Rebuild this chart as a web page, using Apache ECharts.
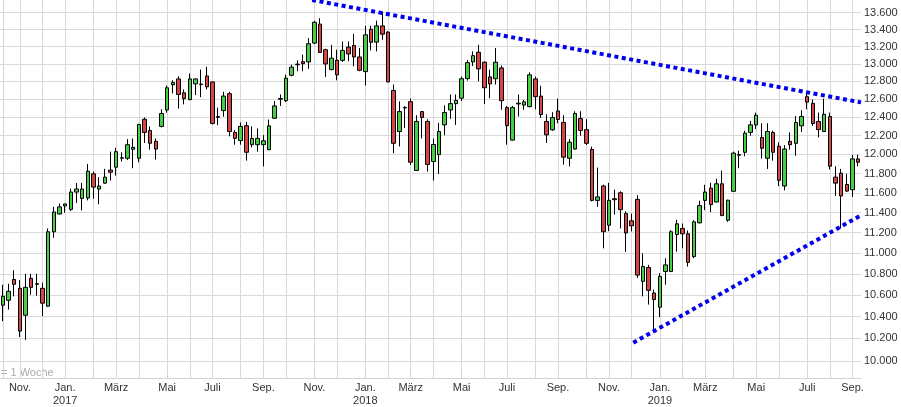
<!DOCTYPE html>
<html><head><meta charset="utf-8">
<script src="https://cdn.jsdelivr.net/npm/echarts@6/dist/echarts.min.js"></script>
<style>html,body{margin:0;padding:0;background:#fff}#c{width:901px;height:407px}</style>
</head><body><div id="c"></div>
<script>
const weeks = ['2016-10-10','2016-10-17','2016-10-24','2016-10-31','2016-11-07','2016-11-14','2016-11-21','2016-11-28','2016-12-05','2016-12-12','2016-12-19','2016-12-26',
'2017-01-02','2017-01-09','2017-01-16','2017-01-23','2017-01-30','2017-02-06','2017-02-13','2017-02-20','2017-02-27','2017-03-06','2017-03-13','2017-03-20','2017-03-27','2017-04-03','2017-04-10','2017-04-17','2017-04-24','2017-05-01','2017-05-08','2017-05-15','2017-05-22','2017-05-29','2017-06-05','2017-06-12','2017-06-19','2017-06-26','2017-07-03','2017-07-10','2017-07-17','2017-07-24','2017-07-31','2017-08-07','2017-08-14','2017-08-21','2017-08-28','2017-09-04','2017-09-11','2017-09-18','2017-09-25','2017-10-02','2017-10-09','2017-10-16','2017-10-23','2017-10-30','2017-11-06','2017-11-13','2017-11-20','2017-11-27','2017-12-04','2017-12-11','2017-12-18','2017-12-25',
'2018-01-01','2018-01-08','2018-01-15','2018-01-22','2018-01-29','2018-02-05','2018-02-12','2018-02-19','2018-02-26','2018-03-05','2018-03-12','2018-03-19','2018-03-26','2018-04-02','2018-04-09','2018-04-16','2018-04-23','2018-04-30','2018-05-07','2018-05-14','2018-05-21','2018-05-28','2018-06-04','2018-06-11','2018-06-18','2018-06-25','2018-07-02','2018-07-09','2018-07-16','2018-07-23','2018-07-30','2018-08-06','2018-08-13','2018-08-20','2018-08-27','2018-09-03','2018-09-10','2018-09-17','2018-09-24','2018-10-01','2018-10-08','2018-10-15','2018-10-22','2018-10-29','2018-11-05','2018-11-12','2018-11-19','2018-11-26','2018-12-03','2018-12-10','2018-12-17','2018-12-24','2018-12-31',
'2019-01-07','2019-01-14','2019-01-21','2019-01-28','2019-02-04','2019-02-11','2019-02-18','2019-02-25','2019-03-04','2019-03-11','2019-03-18','2019-03-25','2019-04-01','2019-04-08','2019-04-15','2019-04-22','2019-04-29','2019-05-06','2019-05-13','2019-05-20','2019-05-27','2019-06-03','2019-06-10','2019-06-17','2019-06-24','2019-07-01','2019-07-08','2019-07-15','2019-07-22','2019-07-29','2019-08-05','2019-08-12','2019-08-19','2019-08-26','2019-09-02'];

const open = [10504,10550,10746,10662,10412,10756,10700,10662,10495,11208,11386,11467,
11432,11608,11543,11547,11796,11639,11700,11835,11866,11960,11960,12055,11960,12379,12257,12140,12301,12481,12761,12828,12672,12595,12772,12765,12862,12794,12400,12474,12662,12236,12148,12309,12104,12104,12104,12051,12390,12600,12584,12869,12990,13025,13022,13241,13464,13163,12934,13042,13040,13194,13213,13079,
12911,13404,13252,13443,13370,12698,12246,12503,12573,11832,12463,12355,11925,11998,12318,12481,12551,12612,12832,13022,13134,13019,12851,12830,12953,12507,12153,12548,12535,12518,12828,12635,12355,12264,12470,12344,11960,12058,12387,12266,12053,11523,11670,11273,11530,11601,11389,11317,11533,10728,10860,10618,10486,
10822,10822,11181,11241,11188,10965,11297,11523,11649,11507,11693,11323,11616,11992,12023,12236,12317,12182,11960,12236,12087,11670,12140,12119,12307,12628,12554,12355,12246,12409,11762,11803,11686,11632,11953];
const close = [10587,10634,10700,10267,10671,10671,10706,10523,11208,11406,11457,11487,
11608,11639,11639,11824,11659,11670,11762,11814,12030,11966,12104,12076,12322,12236,12119,12058,12442,12728,12787,12653,12606,12828,12828,12771,12739,12333,12408,12635,12246,12171,12301,12023,12171,12171,12146,12307,12525,12608,12837,12962,12996,13002,13233,13486,13132,12999,13065,12874,13155,13114,13079,12926,
13337,13250,13443,13345,12794,12119,12463,12510,11918,12355,12398,11895,12106,12246,12452,12551,12587,12830,13014,13094,12942,12728,12772,13019,12584,12309,12507,12556,12571,12874,12628,12431,12210,12398,12376,11971,12130,12442,12257,12119,11523,11558,11208,11523,11540,11429,11196,11267,10787,10869,10643,10556,10775,
10885,11208,11287,11188,10909,11307,11470,11608,11480,11693,11369,11525,12014,11998,12228,12318,12423,12066,12246,12023,11729,12058,12104,12344,12409,12568,12333,12266,12434,11876,11700,11568,11618,11953,11918];
const low = [10357,10464,10587,10213,10188,10602,10593,10403,10490,11149,11379,11399,
11416,11497,11422,11523,11540,11483,11693,11727,11778,11925,11942,11855,11918,12122,12051,11946,12290,12452,12664,12496,12543,12590,12646,12623,12709,12322,12314,12407,12193,12104,12104,11935,12076,12030,11874,12045,12385,12525,12568,12858,12915,12915,12942,13227,13125,12851,12926,12812,13022,13029,12972,12915,
12753,13155,13144,13279,12790,12013,12085,12285,11890,11830,12171,11820,11727,11796,12206,12383,12317,12579,12809,12976,12801,12546,12612,12764,12483,12104,12148,12409,12483,12510,12489,12394,12122,12253,12334,11893,11874,12051,12201,12101,11513,11457,11045,11214,11379,11241,11011,11211,10759,10587,10510,10281,10394,
10696,10815,11013,11045,10869,10949,11290,11424,11404,11500,11366,11307,11614,11855,11981,12200,12272,11955,11848,11935,11670,11625,12051,11987,12240,12489,12307,12182,12240,11841,11568,11241,11610,11558,11876];
const high = [10696,10705,10834,10740,10799,10799,10799,10716,11241,11457,11490,11490,
11642,11701,11701,11900,11820,11762,11848,12030,12069,12023,12164,12171,12330,12398,12301,12171,12489,12753,12812,12858,12709,12889,12832,12934,12965,12797,12507,12683,12683,12261,12344,12350,12301,12279,12207,12376,12579,12653,12877,12991,13040,13106,13299,13505,13534,13175,13221,13163,13259,13259,13349,13183,
13443,13443,13505,13612,13380,12764,12576,12521,12609,12423,12470,12379,12167,12339,12532,12653,12653,12854,13045,13144,13221,13028,12934,13183,12980,12525,12525,12653,12592,12903,12854,12750,12434,12456,12607,12423,12164,12467,12467,12379,12083,11862,11683,11704,11632,11616,11412,11389,11576,10996,10885,10649,10806,
10949,11224,11327,11290,11221,11322,11520,11683,11704,11745,11830,11530,12030,12040,12253,12361,12452,12336,12336,12255,12130,12100,12236,12415,12478,12672,12598,12452,12606,12452,11876,11848,11796,11995,11998];

const yTicks = [10000,10200,10400,10600,10800,11000,11200,11400,11600,11800,12000,12200,12400,12600,12800,13000,13200,13400,13600];
const monthNames = ['Jan.','Feb.','März','Apr.','Mai','Juni','Juli','Aug.','Sep.','Okt.','Nov.','Dez.'];
// trend lines: [week position, value]
const upperTrend = [[54.6, 13754], [151.5, 12565]];
const lowerTrend = [[111.3, 10162], [151.5, 11372]];

const FONT = "'Liberation Sans', Arial, sans-serif";

const monthStart = {};
weeks.forEach(function (w) {
  const d = new Date(w + 'T00:00:00Z');
  const e = new Date(d.getTime() + 6 * 86400000);
  if (e.getUTCDate() <= 7) monthStart[w] = { m: e.getUTCMonth(), y: e.getUTCFullYear() };
});
function isLabel(v) { return !!monthStart[v] && monthStart[v].m % 2 === 0; }
function labelText(v) {
  const s = monthStart[v];
  if (!s || s.m % 2 !== 0) return '';
  return monthNames[s.m] + (s.m === 0 ? '\n' + s.y : '');
}
function fmt(v) { return String(Math.round(v)).replace(/\B(?=(\d{3})+(?!\d))/g, '.'); }

const candles = weeks.map(function (w, i) { return [open[i], close[i], low[i], high[i]]; });

const chart = echarts.init(document.getElementById('c'), null, { renderer: 'canvas' });
chart.setOption({
  animation: false,
  backgroundColor: '#fff',
  textStyle: { fontFamily: FONT },
  grid: { left: 0, right: 40, top: 0, bottom: 26.5, containLabel: false },
  xAxis: [{
    type: 'category', data: weeks, boundaryGap: true,
    axisLine: { show: true, lineStyle: { color: '#d4d4d4', width: 1 } },
    axisTick: { show: false },
    axisLabel: {
      interval: function (i, v) { return isLabel(v); },
      formatter: function (v) { return labelText(v); },
      color: '#333', fontSize: 11, fontFamily: FONT, margin: 3, lineHeight: 13
    },
    splitLine: {
      show: true, alignWithLabel: true,
      interval: function (i, v) { return !!monthStart[v]; },
      lineStyle: { color: '#d9d9d9', width: 1 }
    }
  }, {
    type: 'value', min: -0.5, max: 151.5, show: false
  }],
  yAxis: {
    type: 'log', logBase: 10, min: 9850, max: 13754, position: 'right',
    axisLine: { show: true, lineStyle: { color: '#d4d4d4', width: 1 } },
    axisTick: { show: false, customValues: yTicks },
    axisLabel: { customValues: yTicks, formatter: fmt, color: '#333', fontSize: 11, fontFamily: FONT, margin: 3 },
    splitLine: { show: true, lineStyle: { color: '#d9d9d9', width: 1 } }
  },
  graphic: [{
    type: 'text', left: 1, top: 367,
    style: { text: '= 1 Woche', fill: '#aaaaaa', font: '11px ' + FONT }
  }],
  series: [{
    type: 'candlestick', name: 'Kurs', data: candles, barWidth: 4,
    xAxisIndex: 0, yAxisIndex: 0,
    itemStyle: { color: '#45cf45', color0: '#d64545', borderColor: '#000', borderColor0: '#000', borderColorDoji: '#000', borderWidth: 1 }
  }, {
    type: 'line', data: upperTrend, xAxisIndex: 1, yAxisIndex: 0, symbol: 'none', silent: true,
    lineStyle: { color: '#0000f0', width: 4, type: [4, 3.5], cap: 'butt' }
  }, {
    type: 'line', data: lowerTrend, xAxisIndex: 1, yAxisIndex: 0, symbol: 'none', silent: true,
    lineStyle: { color: '#0000f0', width: 4, type: [4, 3.5], cap: 'butt' }
  }]
});
</script>
</body></html>
